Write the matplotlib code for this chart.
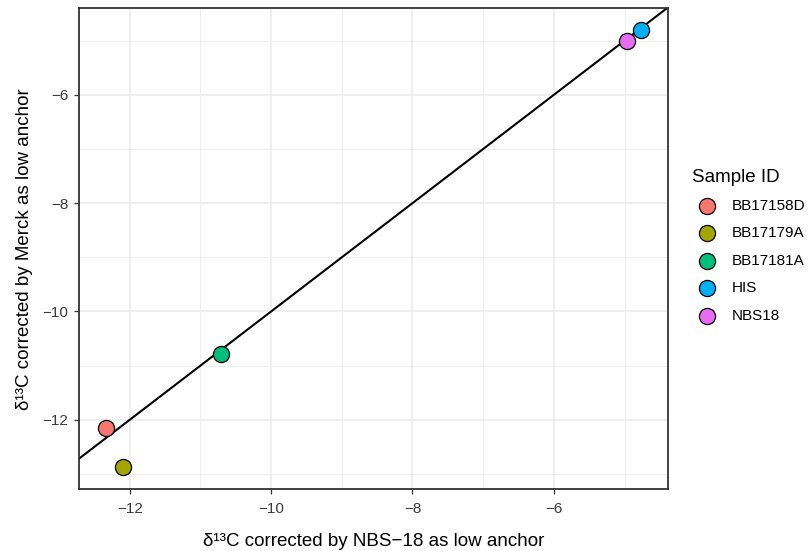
import matplotlib
matplotlib.use('Agg')
import matplotlib.pyplot as plt

# values
sample_ids = ['BB17158D', 'BB17179A', 'BB17181A', 'HIS', 'NBS18']
nbs18_anchor = [-12.34, -12.10, -10.71, -4.76, -4.97]
merck_anchor = [-12.16, -12.88, -10.79, -4.80, -5.00]
colors = ['#F8766D', '#A3A500', '#00BF7D', '#00B0F6', '#E76BF3']

x_major = [-12, -10, -8, -6]
x_minor = [-11, -9, -7, -5]
y_major = [-12, -10, -8, -6]
y_minor = [-13, -11, -9, -7, -5]
tick_text = ['\u221212', '\u221210', '\u22128', '\u22126']

plt.rcParams['font.family'] = ['Liberation Sans', 'DejaVu Sans']

fig = plt.figure(figsize=(8.1, 5.51), dpi=100)
ax = fig.add_axes([0.0975, 0.112, 0.7275, 0.8735])


def padded(vals, frac=0.05):
    lo, hi = min(vals), max(vals)
    pad = (hi - lo) * frac
    return lo - pad, hi + pad


# grid like theme_bw
ax.set_xticks(x_major)
ax.set_yticks(y_major)
ax.set_xticks(x_minor, minor=True)
ax.set_yticks(y_minor, minor=True)
ax.grid(True, which='major', color='#EBEBEB', linewidth=1.1, zorder=0)
ax.grid(True, which='minor', color='#EBEBEB', linewidth=0.6, zorder=0)
ax.set_axisbelow(True)

# 1:1 line
ax.axline((0, 0), slope=1, color='black', linewidth=1.5, zorder=2)

for sid, xv, yv, c in zip(sample_ids, nbs18_anchor, merck_anchor, colors):
    ax.scatter(xv, yv, s=135, color=c, edgecolors='black', linewidths=0.9,
               label=sid, zorder=3)

ax.set_xlim(padded(nbs18_anchor))
ax.set_ylim(padded(merck_anchor))

ax.set_xticklabels(tick_text)
ax.set_yticklabels(tick_text)
ax.tick_params(which='major', length=3.5, width=0.9, color='#333333',
               labelsize=11, labelcolor='#3A3A3A', pad=4)
ax.tick_params(axis='x', which='major', pad=6)
ax.tick_params(which='minor', length=0)

for sp in ax.spines.values():
    sp.set_color('#333333')
    sp.set_linewidth(1.3)

ax.set_xlabel('\u03b4\u00b9\u00b3C corrected by NBS\u221218 as low anchor',
              fontsize=13.5, labelpad=12)
ax.set_ylabel('\u03b4\u00b9\u00b3C corrected by Merck as low anchor',
              fontsize=13.5, labelpad=7)

leg = ax.legend(title='Sample ID', loc='upper left',
                bbox_to_anchor=(0.845, 0.708), bbox_transform=fig.transFigure,
                frameon=False, fontsize=11, title_fontsize=13.5,
                labelspacing=0.88, handletextpad=0.6, borderpad=0,
                markerscale=1.0)
leg._legend_box.align = 'left'

fig.savefig('out.png', dpi=100)
